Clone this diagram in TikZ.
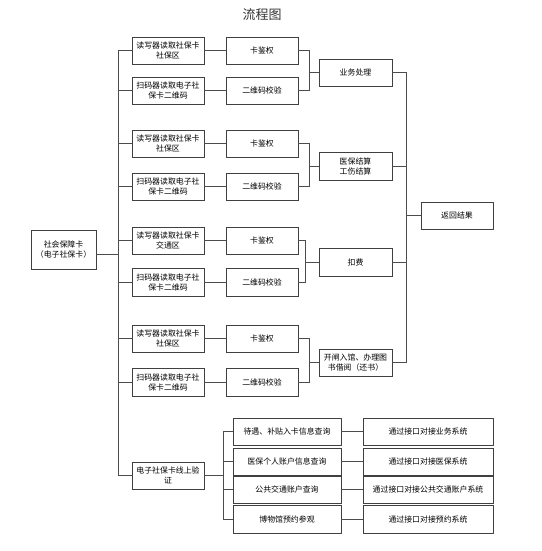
\documentclass[tikz,border=0pt]{standalone}
\usepackage{fontspec}
\newfontfamily\cjk{Noto Sans CJK SC}
\begin{document}
\begin{tikzpicture}[x=1pt,y=-1pt,
  bx/.style={draw=black!75,line width=0.8pt,rectangle,inner sep=0pt,align=center,
    font=\cjk\fontsize{7.9}{10}\selectfont,text=black},
  ln/.style={draw=black!70,line width=0.8pt}]
\useasboundingbox (0,0) rectangle (541,551);
\node[font=\cjk\fontsize{13}{15}\selectfont,text=black!80] (title) at (262,15) {流程图};
\newcommand\mybox[6]{\node[bx,minimum width=#4,minimum height=#5] (#1) at (#2,#3) {#6};}
% root
\mybox{root}{63.5}{249.5}{65}{39}{社会保障卡\\（电子社保卡）}
% column 1
\mybox{a1}{168}{50.5}{72}{27}{读写器读取社保卡\\社保区}
\mybox{a2}{168}{90.5}{72}{27}{扫码器读取电子社\\保卡二维码}
\mybox{a3}{168}{143.5}{72}{27}{读写器读取社保卡\\社保区}
\mybox{a4}{168}{186.5}{72}{27}{扫码器读取电子社\\保卡二维码}
\mybox{a5}{168}{240.5}{72}{27}{读写器读取社保卡\\交通区}
\mybox{a6}{168}{282}{72}{28}{扫码器读取电子社\\保卡二维码}
\mybox{a7}{168}{338.5}{72}{27}{读写器读取社保卡\\社保区}
\mybox{a8}{168}{382}{72}{28}{扫码器读取电子社\\保卡二维码}
\mybox{a9}{168}{475.5}{72}{27}{电子社保卡线上验\\证}
% column 2
\mybox{b1}{262}{50.5}{72}{27}{卡鉴权}
\mybox{b2}{262}{90.5}{72}{27}{二维码校验}
\mybox{b3}{262}{143.5}{72}{27}{卡鉴权}
\mybox{b4}{262}{186.5}{72}{27}{二维码校验}
\mybox{b5}{262}{240.5}{72}{27}{卡鉴权}
\mybox{b6}{262}{282}{72}{28}{二维码校验}
\mybox{b7}{262}{338.5}{72}{27}{卡鉴权}
\mybox{b8}{262}{382}{72}{28}{二维码校验}
% column 3
\mybox{c1}{355.5}{72.5}{73}{27}{业务处理}
\mybox{c2}{355.5}{166}{73}{28}{医保结算\\工伤结算}
\mybox{c3}{355.5}{262}{73}{28}{扣费}
\mybox{c4}{355.5}{362.5}{73}{27}{开闸入馆、办理图\\书借阅（还书）}
% result
\mybox{res}{457}{215.5}{72}{27}{返回结果}
% bottom
\mybox{d1}{287}{431.5}{108}{27}{待遇、补贴入卡信息查询}
\mybox{d2}{287}{461.5}{108}{27}{医保个人账户信息查询}
\mybox{d3}{287}{489.5}{108}{27}{公共交通账户查询}
\mybox{d4}{287}{519}{108}{28}{博物馆预约参观}
\mybox{e1}{428}{431.5}{130}{27}{通过接口对接业务系统}
\mybox{e2}{428}{461.5}{130}{27}{通过接口对接医保系统}
\mybox{e3}{428}{489.5}{130}{27}{通过接口对接公共交通账户系统}
\mybox{e4}{428}{519}{130}{28}{通过接口对接预约系统}
% trunk
\coordinate (rj) at (118,254);
\draw[ln] (root.east |- rj) -- (rj);
\draw[ln] (a1.west) -| (118,0 |- a9.west) -- (a9.west);
\foreach \i in {2,...,8} \draw[ln] (118,0 |- a\i.west) -- (a\i.west);
% col1 -> col2
\foreach \i in {1,...,8} \draw[ln] (a\i.east) -- (b\i.west);
% brackets
\draw[ln] (b1.east) -| (309,0 |- b2.east) -- (b2.east);
\draw[ln] (309,0 |- c1.west) -- (c1.west);
\draw[ln] (b3.east) -| (309,0 |- b4.east) -- (b4.east);
\draw[ln] (309,0 |- c2.west) -- (c2.west);
\draw[ln] (b5.east) -| (305,0 |- b6.east) -- (b6.east);
\draw[ln] (305,0 |- c3.west) -- (c3.west);
\draw[ln] (b7.east) -| (309,0 |- b8.east) -- (b8.east);
\draw[ln] (309,0 |- c4.west) -- (c4.west);
% right trunk
\draw[ln] (c1.east) -| (406,0 |- c4.east) -- (c4.east);
\foreach \i in {2,3} \draw[ln] (c\i.east) -- (406,0 |- c\i.east);
\draw[ln] (406,0 |- res.west) -- (res.west);
% bottom bracket
\draw[ln] (a9.east) -- (223,0 |- a9.east);
\draw[ln] (d1.west) -| (223,0 |- d4.west) -- (d4.west);
\foreach \i in {2,3} \draw[ln] (d\i.west) -- (223,0 |- d\i.west);
\foreach \i in {1,...,4} \draw[ln] (d\i.east) -- (e\i.west);
\end{tikzpicture}
\end{document}
